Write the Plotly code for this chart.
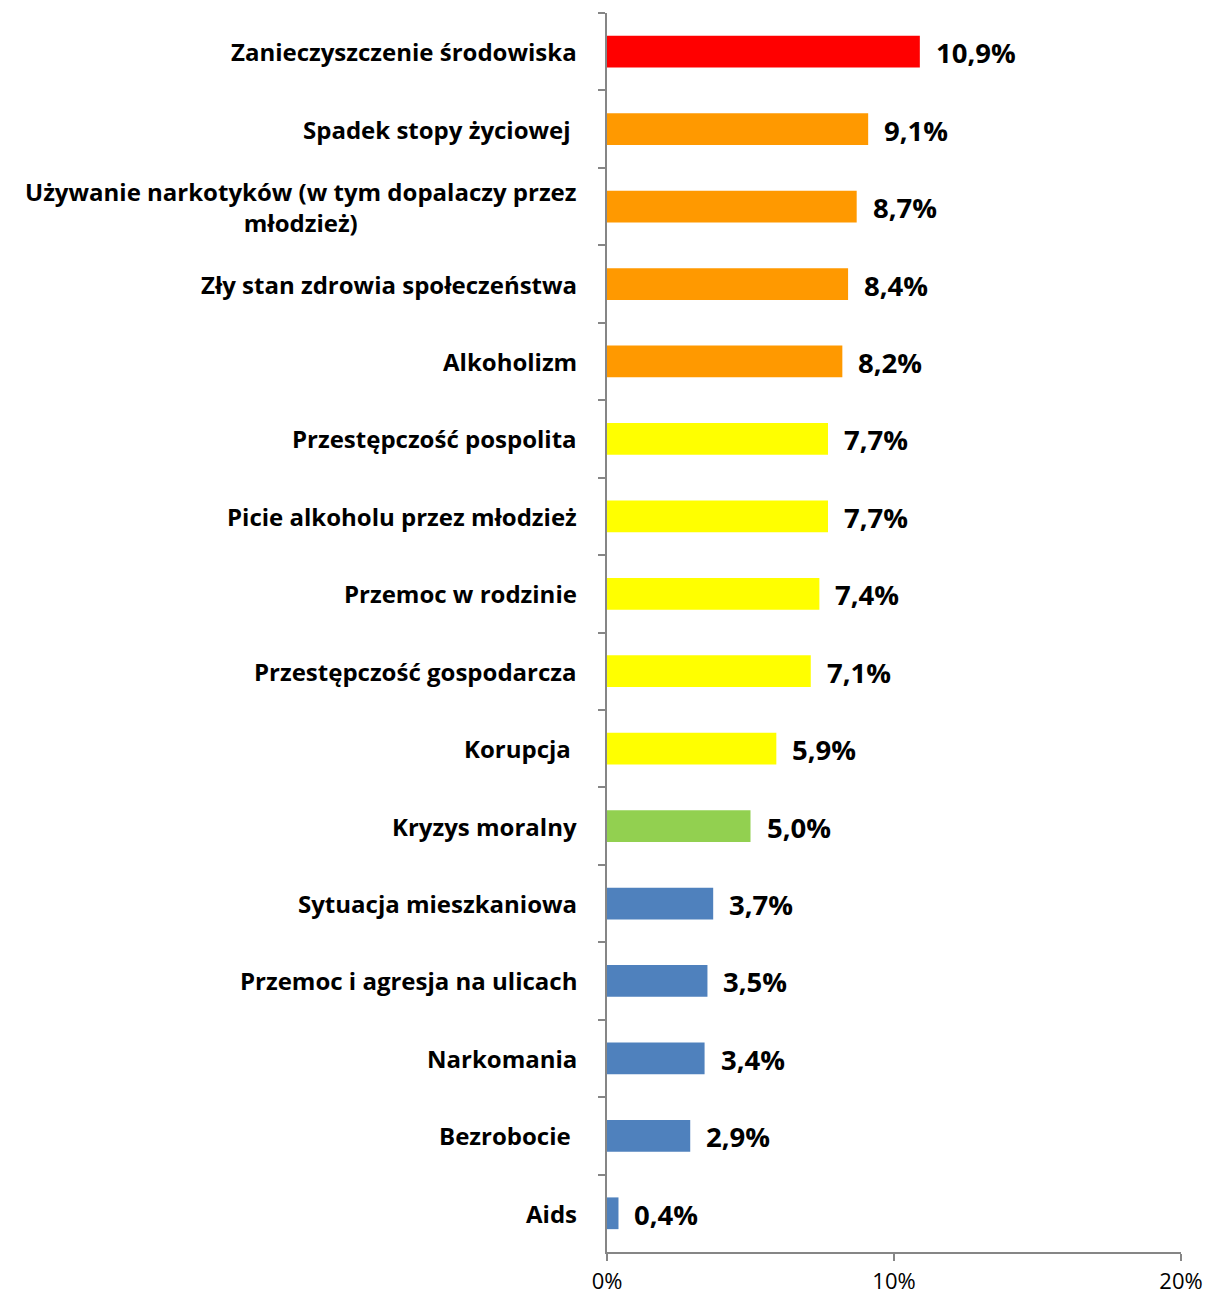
import plotly.graph_objects as go

# Problem categories, shares (%) and bar colours
categories = [
    "Zanieczyszczenie środowiska",
    "Spadek stopy życiowej ",
    "Używanie narkotyków (w tym dopalaczy przez<br>młodzież)",
    "Zły stan zdrowia społeczeństwa",
    "Alkoholizm",
    "Przestępczość pospolita",
    "Picie alkoholu przez młodzież",
    "Przemoc w rodzinie",
    "Przestępczość gospodarcza",
    "Korupcja ",
    "Kryzys moralny",
    "Sytuacja mieszkaniowa",
    "Przemoc i agresja na ulicach",
    "Narkomania",
    "Bezrobocie ",
    "Aids",
]
values = [10.9, 9.1, 8.7, 8.4, 8.2, 7.7, 7.7, 7.4, 7.1, 5.9, 5.0, 3.7, 3.5, 3.4, 2.9, 0.4]
value_labels = ["10,9%", "9,1%", "8,7%", "8,4%", "8,2%", "7,7%", "7,7%", "7,4%",
                "7,1%", "5,9%", "5,0%", "3,7%", "3,5%", "3,4%", "2,9%", "0,4%"]
bar_colors = ["#FF0000"] + ["#FF9900"] * 4 + ["#FFFF00"] * 5 + ["#92D050"] + ["#4F81BD"] * 5

x_tickvals = [0, 10, 20]
x_ticktext = ["0%", "10%", "20%"]

FONT = "'Open Sans', Lato, sans-serif"
AXIS_GREY = "#868686"

cat_ids = [f"c{i}" for i in range(len(categories))]

fig = go.Figure(
    go.Bar(
        x=values,
        y=cat_ids,
        orientation="h",
        marker=dict(color=bar_colors, line=dict(width=0)),
        width=0.41,
        hoverinfo="skip",
    )
)

annotations = []
for cid, name, v, lab in zip(cat_ids, categories, values, value_labels):
    # category label to the left of the axis
    annotations.append(dict(
        x=0, xref="paper", y=cid, yref="y",
        text=name, showarrow=False, xanchor="right", align="center",
        xshift=-28, font=dict(family=FONT, size=24, color="#000000", weight="bold"),
    ))
    # value label just past the end of each bar
    annotations.append(dict(
        x=v, xref="x", y=cid, yref="y",
        text=lab, showarrow=False, xanchor="left", xshift=14, yshift=-1,
        font=dict(family=FONT, size=27.5, color="#000000", weight="bold"),
    ))

fig.update_layout(
    width=1211,
    height=1297,
    margin=dict(l=607, r=30, t=13, b=45),
    plot_bgcolor="#FFFFFF",
    paper_bgcolor="#FFFFFF",
    showlegend=False,
    annotations=annotations,
    xaxis=dict(
        range=[0, 20],
        tickvals=x_tickvals,
        ticktext=x_ticktext,
        showgrid=False,
        zeroline=False,
        showline=True,
        linecolor=AXIS_GREY,
        linewidth=2,
        ticks="outside",
        ticklen=7,
        tickwidth=2,
        tickcolor=AXIS_GREY,
        tickfont=dict(family=FONT, size=22, color="#000000"),
        ticklabelstandoff=2,
        automargin=False,
        fixedrange=True,
    ),
    yaxis=dict(
        type="category",
        categoryorder="array",
        categoryarray=cat_ids,
        range=[len(cat_ids) - 0.5, -0.5],
        tickson="boundaries",
        showticklabels=False,
        showgrid=False,
        zeroline=False,
        showline=True,
        linecolor=AXIS_GREY,
        linewidth=2,
        ticks="outside",
        ticklen=7,
        tickwidth=2,
        tickcolor=AXIS_GREY,
        automargin=False,
        fixedrange=True,
    ),
)

fig.write_html("out.html")
